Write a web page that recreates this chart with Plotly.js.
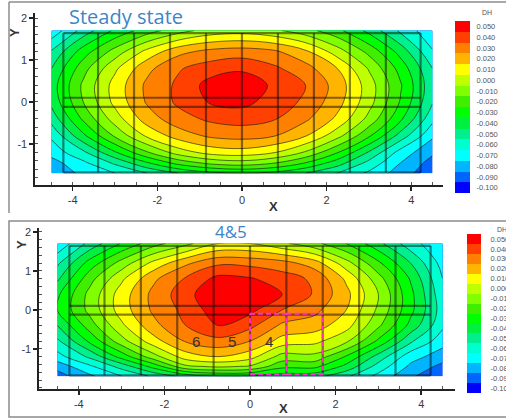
<!DOCTYPE html>
<html><head><meta charset="utf-8">
<script src="https://cdn.plot.ly/plotly-3.0.1.min.js"></script>
<style>html,body{margin:0;padding:0;background:#fff;}#chart{width:506px;height:419px;}</style>
</head><body><div id="chart"></div>
<script>
// ---- data ----
const gridX = [-4.5,-3.75,-3,-2.25,-1.5,-0.75,0,0.75,1.5,2.25,3,3.75,4.5];
const gridY = [-1.7,-1.45,-1.2,-0.8,-0.4,0,0.4,0.8,1.2,1.7];
const steadyDH = [
  [-0.076,-0.068,-0.060,-0.050,-0.040,-0.033,-0.030,-0.033,-0.040,-0.050,-0.062,-0.075,-0.087],
  [-0.074,-0.062,-0.048,-0.031,-0.016,-0.007,-0.004,-0.009,-0.020,-0.035,-0.053,-0.070,-0.084],
  [-0.066,-0.052,-0.031,-0.011, 0.005, 0.014, 0.016, 0.011,-0.001,-0.019,-0.041,-0.064,-0.078],
  [-0.058,-0.032,-0.008, 0.012, 0.025, 0.032, 0.034, 0.031, 0.021, 0.004,-0.018,-0.044,-0.068],
  [-0.046,-0.018, 0.005, 0.025, 0.036, 0.042, 0.044, 0.041, 0.032, 0.018,-0.003,-0.028,-0.057],
  [-0.037,-0.010, 0.013, 0.031, 0.042, 0.051, 0.053, 0.046, 0.038, 0.024, 0.004,-0.021,-0.049],
  [-0.035,-0.008, 0.014, 0.032, 0.042, 0.054, 0.058, 0.048, 0.040, 0.026, 0.005,-0.019,-0.047],
  [-0.040,-0.014, 0.008, 0.027, 0.039, 0.045, 0.048, 0.042, 0.034, 0.020,-0.001,-0.024,-0.050],
  [-0.049,-0.025,-0.006, 0.013, 0.027, 0.033, 0.035, 0.032, 0.022, 0.005,-0.013,-0.034,-0.059],
  [-0.067,-0.046,-0.028,-0.015,-0.004, 0.004, 0.006, 0.002,-0.006,-0.017,-0.033,-0.052,-0.068]
];
const case45DH = [
  [-0.085,-0.072,-0.060,-0.048,-0.036,-0.030,-0.030,-0.035,-0.036,-0.048,-0.063,-0.078,-0.090],
  [-0.076,-0.062,-0.046,-0.026,-0.002, 0.002,-0.001,-0.017,-0.017,-0.033,-0.054,-0.072,-0.083],
  [-0.064,-0.048,-0.026,-0.004, 0.015, 0.020, 0.014,-0.004,-0.003,-0.021,-0.044,-0.066,-0.075],
  [-0.052,-0.028,-0.004, 0.016, 0.031, 0.037, 0.030, 0.016, 0.013, 0.002,-0.022,-0.048,-0.066],
  [-0.040,-0.015, 0.008, 0.027, 0.040, 0.050, 0.043, 0.028, 0.025, 0.014,-0.008,-0.033,-0.058],
  [-0.030,-0.007, 0.015, 0.032, 0.043, 0.056, 0.053, 0.040, 0.033, 0.020,-0.002,-0.027,-0.055],
  [-0.032,-0.007, 0.015, 0.033, 0.046, 0.060, 0.058, 0.050, 0.039, 0.023, 0.000,-0.027,-0.057],
  [-0.042,-0.014, 0.008, 0.028, 0.041, 0.053, 0.051, 0.045, 0.038, 0.018,-0.006,-0.031,-0.060],
  [-0.052,-0.026,-0.006, 0.013, 0.028, 0.038, 0.037, 0.034, 0.025, 0.004,-0.018,-0.040,-0.064],
  [-0.068,-0.047,-0.029,-0.014,-0.003, 0.010, 0.010, 0.002,-0.007,-0.020,-0.037,-0.056,-0.068]
];
const levels = [-0.100,-0.090,-0.080,-0.070,-0.060,-0.050,-0.040,-0.030,-0.020,-0.010,0.000,0.010,0.020,0.030,0.040,0.050];
const levelColors = ['#0000ff','#0064ff','#00b4ff','#00ffff','#00ffd0','#00f090','#00f040','#00ff00',
                     '#40ee00','#80ff00','#c0ff00','#ffff00','#ffb400','#ff8000','#ff4000','#ff0000'];
const panelX = [-4.22,-3.4,-2.55,-1.7,-0.85,0,0.85,1.7,2.55,3.4,4.22];
const panelRowsY = [1.64,0.1,-0.12,-1.68];
const dashedBoxesX = [[0,0.85],[0.85,1.7]];
const dashedBoxY = [-0.1,-1.65];
const panelLabels = ['6','5','4'];
const panelLabelX = [-1.27,-0.42,0.45];
const panelLabelY = -0.82;
const xTicks = [-4,-2,0,2,4];
const yTicks = [-1,0,1,2];

// ---- build ----
const n = levelColors.length;
const cs = [];
levelColors.forEach((c,i)=>{
  cs.push([Math.max(0,(i-0.5)/(n-1)), c]);
  cs.push([Math.min(1,(i+0.5)/(n-1)), c]);
});

function contourTrace(z, xa, ya){
  return {type:'contour', x:gridX, y:gridY, z:z, xaxis:xa, yaxis:ya,
    autocontour:false, contours:{start:-0.09,end:0.05,size:0.01,coloring:'fill',showlines:true},
    colorscale:cs, showscale:false, hoverinfo:'skip',
    line:{color:'rgba(25,25,25,0.7)', width:0.9, smoothing:1}};
}
function gridTrace(xa, ya){
  const gx=[], gy=[];
  panelX.forEach(x=>{gx.push(x,x,null); gy.push(panelRowsY[0],panelRowsY[panelRowsY.length-1],null);});
  panelRowsY.forEach(y=>{gx.push(panelX[0],panelX[panelX.length-1],null); gy.push(y,y,null);});
  return {type:'scatter', mode:'lines', x:gx, y:gy, xaxis:xa, yaxis:ya, hoverinfo:'skip',
    line:{color:'rgba(10,10,10,0.5)', width:2.2}, showlegend:false, connectgaps:false};
}
function legendTrace(xa, ya){
  return {type:'heatmap', x:[0], y:levels, z:levels.map(v=>[v]), zmin:levels[0], zmax:levels[levels.length-1],
    colorscale:cs, showscale:false, xaxis:xa, yaxis:ya, hoverinfo:'skip'};
}
const traces = [
  contourTrace(steadyDH,'x','y'), gridTrace('x','y'),
  contourTrace(case45DH,'x2','y2'), gridTrace('x2','y2'),
  legendTrace('x3','y3'), legendTrace('x4','y4')
];
dashedBoxesX.forEach(b=>{
  traces.push({type:'scatter', mode:'lines', xaxis:'x2', yaxis:'y2', hoverinfo:'skip', showlegend:false,
    x:[b[0],b[1],b[1],b[0],b[0]], y:[dashedBoxY[0],dashedBoxY[0],dashedBoxY[1],dashedBoxY[1],dashedBoxY[0]],
    line:{color:'#ff30d0', width:2, dash:'5px,3px'}});
});

const W=506, H=419;
const px = v=>v/W, py = v=>1-v/H;
const tickFont = {family:'Arial, Liberation Sans, sans-serif', size:11, color:'#3a3a3a'};
function xAx(d0,d1,range,anchor){
  return {domain:[px(d0),px(d1)], range:range, anchor:anchor, showline:true, linecolor:'#222', linewidth:1.6,
    ticks:'outside', ticklen:4, tickwidth:1.6, tickcolor:'#222', tickmode:'array', tickvals:xTicks,
    ticktext:xTicks.map(String),
    minor:{ticks:'inside', ticklen:3, tickwidth:1, tickcolor:'#555', dtick:0.5, tick0:0, showgrid:false},
    showgrid:false, zeroline:false, tickfont:tickFont, fixedrange:true};
}
function yAx(d0,d1,range,anchor){
  return {domain:[py(d1),py(d0)], range:range, anchor:anchor, showline:true, linecolor:'#222', linewidth:1.6,
    ticks:'outside', ticklen:4, tickwidth:1.6, tickcolor:'#222', tickmode:'array', tickvals:yTicks,
    ticktext:yTicks.map(String),
    minor:{ticks:'inside', ticklen:3, tickwidth:1, tickcolor:'#555', dtick:0.2, tick0:0, showgrid:false},
    showgrid:false, zeroline:false, tickfont:tickFont, fixedrange:true};
}
function cbX(d0,d1,anchor){
  return {domain:[px(d0),px(d1)], range:[-0.5,0.5], anchor:anchor, visible:false, fixedrange:true};
}
function cbY(d0,d1,anchor,tl){
  return {domain:[py(d1),py(d0)], range:[levels[0]-0.005, levels[levels.length-1]+0.005], anchor:anchor,
    side:'right', showline:false, showgrid:false, zeroline:false, ticks:'outside', ticklen:tl,
    tickcolor:'rgba(0,0,0,0)', tickmode:'array', tickvals:levels, ticktext:levels.map(v=>v.toFixed(3)),
    tickfont:{family:'Arial, Liberation Sans, sans-serif', size:7.5, color:'#555'}, fixedrange:true};
}
const ann = (x,y,text,opt)=>Object.assign({xref:'paper', yref:'paper', x:px(x), y:py(y), text:text, showarrow:false,
  xanchor:'center', yanchor:'middle'}, opt||{});
const annotations = [
  ann(67,16,'Steady state',{xanchor:'left', font:{family:'Open Sans, sans-serif', size:20, color:'#3d85c6'}}),
  ann(231,232,'4&amp;5',{font:{family:'Open Sans, sans-serif', size:17, color:'#3d85c6'}}),
  ann(487,13,'DH',{font:{family:'Arial, sans-serif', size:7, color:'#555'}}),
  ann(502,229,'DH',{font:{family:'Arial, sans-serif', size:7, color:'#555'}}),
  ann(15,33,'<b>Y</b>',{textangle:-90, font:{family:'Arial, sans-serif', size:13, color:'#333'}}),
  ann(21,245,'<b>Y</b>',{textangle:-90, font:{family:'Arial, sans-serif', size:13, color:'#333'}}),
  ann(273,207,'<b>X</b>',{font:{family:'Arial, sans-serif', size:13, color:'#333'}}),
  ann(283,408,'<b>X</b>',{font:{family:'Arial, sans-serif', size:13, color:'#333'}})
];
panelLabels.forEach((t,i)=>annotations.push({xref:'x2', yref:'y2', x:panelLabelX[i], y:panelLabelY, text:t,
  showarrow:false, font:{family:'Arial, sans-serif', size:15, color:'#333'}}));

const frame = {color:'#8c8c8c', width:1.5};
const shapes = [
  {type:'line', xref:'paper', yref:'paper', x0:px(9), x1:px(9), y0:py(2), y1:py(213), line:frame},
  {type:'line', xref:'paper', yref:'paper', x0:px(9), x1:1, y0:py(2), y1:py(2), line:frame},
  {type:'rect', xref:'paper', yref:'paper', x0:px(9), x1:px(520), y0:py(417), y1:py(221), line:frame}
];

const layout = {
  width:W, height:H, margin:{l:0,r:0,t:0,b:0}, paper_bgcolor:'#fff', plot_bgcolor:'rgba(0,0,0,0)',
  showlegend:false,
  xaxis: xAx(35,443,[-4.89,4.75],'y'),   yaxis: yAx(13,185,[-1.98,2.12],'x'),
  xaxis2: xAx(39,455,[-4.93,4.79],'y2'), yaxis2: yAx(228,389,[-2.03,2.10],'x2'),
  xaxis3: cbX(455,470,'y3'), yaxis3: cbY(21,193,'x3',4),
  xaxis4: cbX(467,481,'y4'), yaxis4: cbY(234,393,'x4',7),
  annotations: annotations, shapes: shapes
};
Plotly.newPlot('chart', traces, layout, {staticPlot:true, displayModeBar:false});
</script></body></html>
